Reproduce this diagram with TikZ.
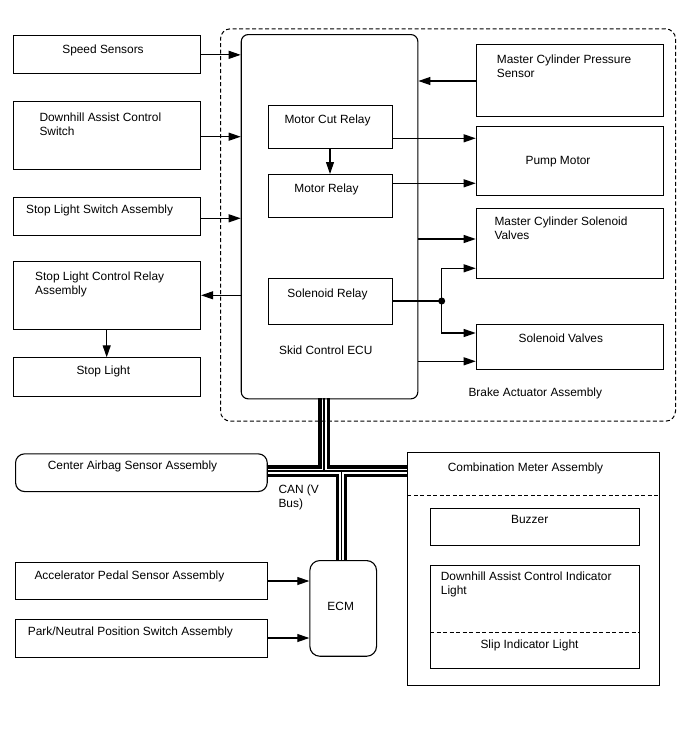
\documentclass[tikz,border=0pt]{standalone}
\usepackage{fontspec}
\setmainfont{Liberation Sans}
\usetikzlibrary{arrows.meta}

\tikzset{
  box/.style={draw, line width=1.1pt, inner sep=0pt, anchor=north west},
  txt/.style={inner sep=0pt, anchor=base west},
  ctxt/.style={inner sep=0pt, anchor=base},
  mtxt/.style={inner sep=0pt, anchor=north west, align=left},
  arr/.style={line width=1.1pt, -{Triangle[length=12pt,width=8pt]}},
  dsh/.style={line width=1pt, dash pattern=on 4pt off 2.5pt},
}

\begin{document}
\begin{tikzpicture}[x=1pt, y=-1pt, font=\fontsize{11.9}{14}\selectfont]
    \useasboundingbox (0,0) rectangle (688,755);
    % CAN bus
    \coordinate (busT) at (324,471);
    \coordinate (busD) at (341.5,471);
    \foreach \w/\c in {11.5/black,5/white,1.1/black}
      \draw[line width=\w pt, \c] (324,398.3) -- (busT)
        (266.7,471) -- (407.3,471) (busD) -- (341.5,560);
    % left column
    \node[box, minimum width=186.7pt, minimum height=38pt] (speed) at (13.3,35.3) {};
    \node[box, minimum width=186.7pt, minimum height=68.6pt] (dhs) at (13.3,100.7) {};
    \node[box, minimum width=186.7pt, minimum height=37.7pt] (sls) at (13.3,197.3) {};
    \node[box, minimum width=186.7pt, minimum height=68.3pt] (slr) at (13.3,260.7) {};
    \node[box, minimum width=186.7pt, minimum height=38.4pt] (sl) at (13.3,357.3) {};
    % brake actuator
    \node[box, dsh, rounded corners=10pt, minimum width=455pt, minimum height=392.4pt] (brake) at (220,28.3) {};
    \node[box, rounded corners=7pt, minimum width=176.6pt, minimum height=364.3pt] (ecu) at (240.7,34) {};
    \node[box, minimum width=124pt, minimum height=43.3pt] (mcut) at (268.3,105) {};
    \node[box, minimum width=124pt, minimum height=43.3pt] (mrel) at (268.3,174) {};
    \node[box, minimum width=124pt, minimum height=46.3pt] (srel) at (268.3,277.7) {};
    \node[box, minimum width=187.6pt, minimum height=71.7pt] (mcps) at (475.7,44.3) {};
    \node[box, minimum width=187.6pt, minimum height=69.3pt] (pump) at (475.7,126) {};
    \node[box, minimum width=187.6pt, minimum height=69.7pt] (mcsv) at (475.7,208) {};
    \node[box, minimum width=187.6pt, minimum height=45.3pt] (sv) at (475.7,324) {};
    % lower part
    \node[box, rounded corners=9pt, minimum width=251.7pt, minimum height=37.7pt] (airbag) at (15,453.3) {};
    \node[box, minimum width=251.7pt, minimum height=37.6pt] (acc) at (15,561.7) {};
    \node[box, minimum width=251.7pt, minimum height=38.3pt] (pns) at (15,619) {};
    \node[box, rounded corners=10pt, minimum width=66.7pt, minimum height=95.7pt] (ecm) at (309.3,560) {};
    \node[box, minimum width=252pt, minimum height=232.7pt] (meter) at (407.3,452.3) {};
    \node[box, minimum width=209.3pt, minimum height=37.6pt] (buzz) at (430,507.7) {};
    \node[box, minimum width=209.3pt, minimum height=103.6pt] (ind) at (430,564.7) {};
    \draw[dsh] (meter.west |- 0,495) -- (meter.east |- 0,495);
    \draw[dsh] (ind.west |- 0,632.3) -- (ind.east |- 0,632.3);

    % texts
    \node[ctxt] (speedtxt) at (103,53) {Speed Sensors};
    \node[mtxt] (dhstxt) at (39.3,113.1) {Downhill Assist Control\\Switch};
    \node[txt] (slstxt) at (26,213.3) {Stop Light Switch Assembly};
    \node[mtxt] (slrtxt) at (35,271.4) {Stop Light Control Relay\\Assembly};
    \node[ctxt] (sltxt) at (103.3,374) {Stop Light};
    \node[mtxt] (mcpstxt) at (496.7,55) {Master Cylinder Pressure\\Sensor};
    \node[ctxt] (mcuttxt) at (327.5,123.3) {Motor Cut Relay};
    \node[ctxt] (mreltxt) at (326.5,192.7) {Motor Relay};
    \node[ctxt] (pumptxt) at (558,164) {Pump Motor};
    \node[mtxt] (mcsvtxt) at (494.3,216.7) {Master Cylinder Solenoid\\Valves};
    \node[ctxt] (sreltxt) at (327.5,297.3) {Solenoid Relay};
    \node[ctxt] (svtxt) at (560.8,342.3) {Solenoid Valves};
    \node[ctxt] (ecutxt) at (325.8,354) {Skid Control ECU};
    \node[txt] (braketxt) at (468.3,396.7) {Brake Actuator Assembly};
    \node[txt] (airbagtxt) at (47.7,469.3) {Center Airbag Sensor Assembly};
    \node[mtxt] (cantxt) at (278.3,484.7) {CAN (V\\Bus)};
    \node[txt] (acctxt) at (34.3,579) {Accelerator Pedal Sensor Assembly};
    \node[txt] (pnstxt) at (27.7,635.7) {Park/Neutral Position Switch Assembly};
    \node[ctxt] (ecmtxt) at (340.7,610.7) {ECM};
    \node[ctxt] (metertxt) at (525.5,471) {Combination Meter Assembly};
    \node[ctxt] (buzztxt) at (529.7,523.3) {Buzzer};
    \node[mtxt] (indtxt) at (440.7,572.1) {Downhill Assist Control Indicator\\Light};
    \node[ctxt] (sliptxt) at (529.5,648.3) {Slip Indicator Light};

    % connectors
    \draw[arr] (speed.east) -- (ecu.west |- speed.east);
    \draw[arr] (dhs.east |- 0,136.7) -- (ecu.west |- 0,136.7);
    \draw[arr] (sls.east |- 0,218.3) -- (ecu.west |- 0,218.3);
    \draw[arr] (ecu.west |- 0,295.3) -- (slr.east |- 0,295.3);
    \draw[arr] (slr.south -| 106.7,0) -- (sl.north -| 106.7,0);
    \draw[arr] (mcps.west |- 0,81) -- (ecu.east |- 0,81);
    \draw[arr] (mcut.south -| 330,0) -- (mrel.north -| 330,0);
    \draw[arr] (mcut.east |- 0,138.3) -- (pump.west |- 0,138.3);
    \draw[arr] (mrel.east |- 0,183.3) -- (pump.west |- 0,183.3);
    \draw[arr] (ecu.east |- 0,239) -- (mcsv.west |- 0,239);
    \coordinate (jn) at (441.7,301);
    \draw[line width=1.1pt] (srel.east |- jn) -- (jn);
    \draw[arr] (jn) |- (mcsv.west |- 0,268.3);
    \draw[arr] (jn) |- (sv.west |- 0,333);
    \fill (jn) circle (3.5pt);
    \draw[arr] (ecu.east |- 0,361.3) -- (sv.west |- 0,361.3);
    \draw[arr] (acc.east |- 0,581) -- (ecm.west |- 0,581);
    \draw[arr] (pns.east |- 0,638) -- (ecm.west |- 0,638);
\end{tikzpicture}
\end{document}
